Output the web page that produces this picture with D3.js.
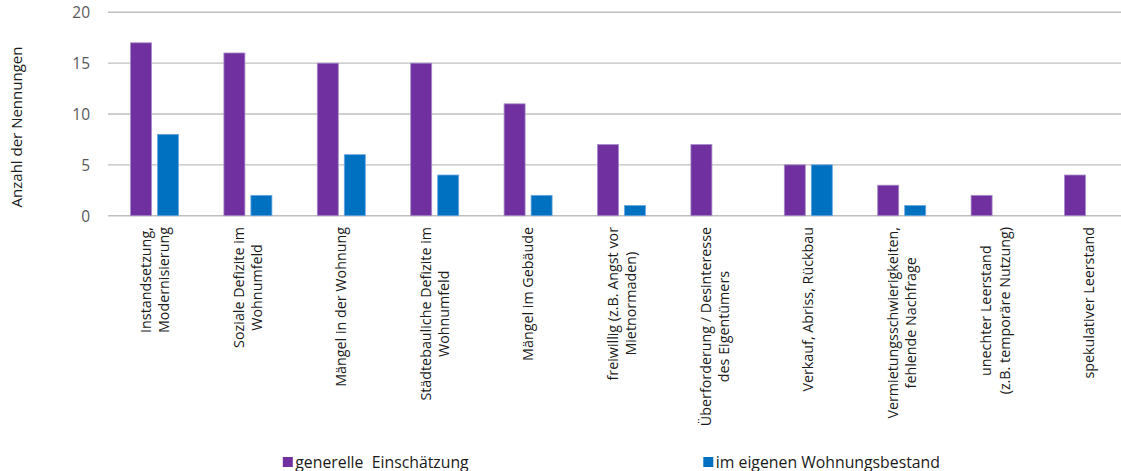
<!DOCTYPE html>
<html><head><meta charset="utf-8">
<script src="https://cdn.jsdelivr.net/npm/d3@7"></script>
<style>
html,body{margin:0;padding:0;background:#fff;}
svg{display:block;font-family:"Open Sans",sans-serif;}
</style></head>
<body><svg id="c" width="1121" height="471"></svg>
<script>
const categories = [
  ["Instandsetzung,","Modernisierung"],
  ["Soziale Defizite im","Wohnumfeld"],
  ["Mängel in der Wohnung"],
  ["Städtebauliche Defizite im","Wohnumfeld"],
  ["Mängel im Gebäude"],
  ["freiwillig (z.B. Angst vor","Mietnormaden)"],
  ["Überforderung / Desinteresse","des Eigentümers"],
  ["Verkauf, Abriss, Rückbau"],
  ["Vermietungsschwierigkeiten,","fehlende Nachfrage"],
  ["unechter Leerstand","(z.B. temporäre Nutzung)"],
  ["spekulativer Leerstand"]
];
const seriesNames = ["generelle  Einschätzung","im eigenen Wohnungsbestand"];
const generell = [17,16,15,15,11,7,7,5,3,2,4];
const eigenen  = [8,2,6,4,2,1,0,5,1,0,0];
const yTicks = [0,5,10,15,20];
const yTitle = "Anzahl der Nennungen";

const colors = ["#7030A0","#0070C0"];
const strokes = ["#a58cc6","#6aa6dc"];
const svg = d3.select("#c");
const keys = categories.map((c,i)=>"c"+i);
const x0 = d3.scaleBand().domain(keys).range([107.8,1135.2]).padding(0);
const st = x0.bandwidth();
const x1 = d3.scaleBand().domain([0,1]).range([st/2-24, st/2+24]).paddingInner(6/27);
const y = d3.scaleLinear().domain([0,20]).range([215.7,12.3]);

// gridlines
svg.append("g").selectAll("line").data(yTicks).join("line")
  .attr("x1",108).attr("x2",1121)
  .attr("y1",d=>y(d)).attr("y2",d=>y(d))
  .attr("stroke","#bfbfbf").attr("stroke-width",1.4);

// y axis labels
const yAxis = d3.axisLeft(y).tickValues(yTicks).tickSize(0).tickPadding(0);
const ya = svg.append("g").attr("transform","translate(90,0)").call(yAxis);
ya.select(".domain").remove();
ya.selectAll("text").attr("font-size","15.5px").attr("fill","#595959")
  .attr("font-family","'Open Sans',sans-serif").attr("dy","0.35em");

// bars
const data = [generell, eigenen];
const bars = svg.append("g");
data.forEach((vals,si)=>{
  bars.selectAll(".b"+si).data(vals.map((v,i)=>({v,i})).filter(d=>d.v>0)).join("rect")
    .attr("x",d=>x0(keys[d.i])+x1(si))
    .attr("width",x1.bandwidth())
    .attr("y",d=>y(d.v))
    .attr("height",d=>y(0)-y(d.v))
    .attr("fill",colors[si])
    .attr("stroke",strokes[si]).attr("stroke-width",0.8);
});

// x labels
const lbl = svg.append("g");
categories.forEach((lines,i)=>{
  const cx = x0(keys[i]) + st/2;
  const n = lines.length;
  const g = lbl.append("g");
  const texts = lines.map((t,j)=>{
    return g.append("text").text(t)
      .attr("font-size","14.3px").attr("fill","#1a1a1a")
      .attr("text-anchor","middle");
  });
  const maxLen = d3.max(texts, t=>t.node().getComputedTextLength());
  const cy = 227 + maxLen/2;
  texts.forEach((t,j)=>{
    const bx = cx + 5 - (n-1)*9 + j*18.5;
    t.attr("transform",`translate(${bx},${cy}) rotate(-90)`);
  });
});

// y title
svg.append("text").text(yTitle)
  .attr("transform","translate(22,127) rotate(-90)")
  .attr("text-anchor","middle").attr("font-size","15px").attr("fill","#1a1a1a");

// legend
const legX = [282.8, 703.3];
seriesNames.forEach((s,i)=>{
  svg.append("rect").attr("x",legX[i]).attr("y",457).attr("width",10).attr("height",10)
    .attr("fill",colors[i]);
  svg.append("text").text(s).attr("x",legX[i]+12.5).attr("y",467.5)
    .attr("font-size","15.8px").attr("fill","#1a1a1a")
    .style("white-space","pre");
});
</script></body></html>
